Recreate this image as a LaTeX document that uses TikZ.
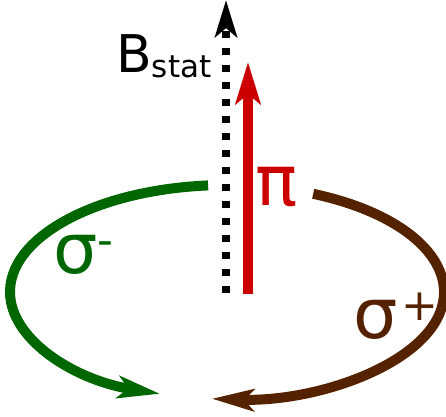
\documentclass[tikz,border=0pt]{standalone}
\usepackage{fontspec}
\setmainfont{DejaVu Sans}
\usetikzlibrary{arrows.meta}
\definecolor{sigmaminus}{HTML}{006600}
\definecolor{sigmaplus}{HTML}{552200}
\definecolor{pired}{HTML}{CC0000}

\begin{document}
\begin{tikzpicture}[
    x=1pt, y=1pt,
    label/.style={inner sep=0pt, anchor=base west},
    big/.style={font=\fontsize{70}{70}\selectfont},
    field/.style={line width=8pt, dash pattern=on 7pt off 10pt, -{Stealth[length=37pt, width=22pt, inset=9pt]}},
    photon/.style={line width=10pt, -{Stealth[length=42pt, width=25pt, inset=10pt]}},
    circular/.style={line width=10pt, -{Stealth[length=42pt, width=22pt, inset=10pt]}}
]
\useasboundingbox (0,0) rectangle (446,416);

% Coordinates
\coordinate (fieldbase) at (226,123);
\coordinate (fieldtip) at (226,416);
\coordinate (pibase) at (248,122);
\coordinate (pitip) at (248,354);
\coordinate (center) at (227,124);

% Arrows
\draw[field] (fieldbase) -- (fieldtip);
\draw[photon, pired] (pibase) -- (pitip);
\draw[circular, sigmaminus] ([shift={(95:217 and 107)}]center) arc[start angle=95, end angle=252, x radius=217, y radius=107];
\draw[circular, sigmaplus] ([shift={(66.6:217 and 107)}]center) arc[start angle=66.6, end angle=-94, x radius=217, y radius=107];

% Labels
\node[label, font=\fontsize{52}{52}\selectfont] (bstat) at (116,344) {B\raisebox{-5pt}{\fontsize{31}{31}\selectfont stat}};
\node[label, big, pired] (pi) at (255,211) {π};
\node[label, big, sigmaminus] (sminus) at (53,143) {σ\raisebox{18pt}{\fontsize{44}{44}\selectfont -}};
\node[label, big, sigmaplus] (splus) at (353,78) {σ\hspace{4pt}\raisebox{18pt}{\fontsize{44}{44}\selectfont +}};

\end{tikzpicture}
\end{document}
